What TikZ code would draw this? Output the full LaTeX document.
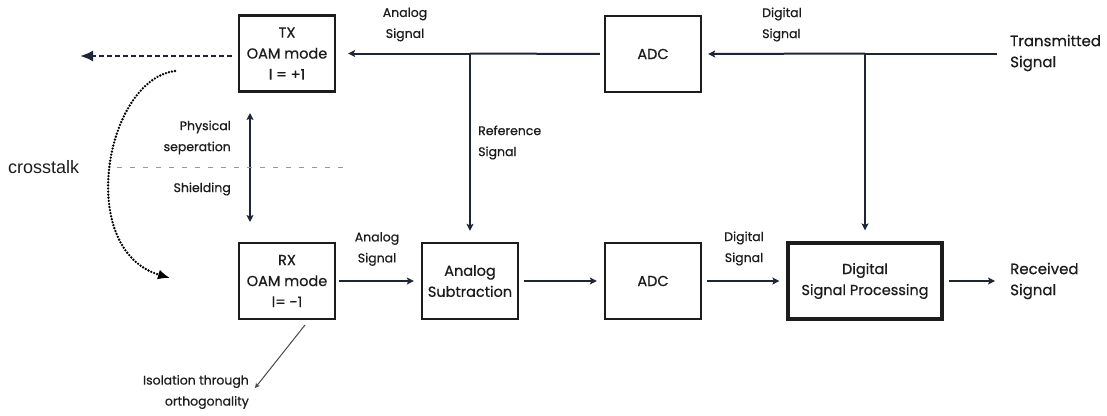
\documentclass[tikz,border=0pt]{standalone}
\usepackage{fontspec}
\setmainfont{Poppins}[FakeBold=0.6]
\newfontfamily\arialfont{Liberation Sans}
\usetikzlibrary{arrows.meta}
\definecolor{ink}{HTML}{1E2536}
\definecolor{txt}{HTML}{1C1C1C}
\begin{document}
\begin{tikzpicture}[x=1pt,y=-1pt,
  block/.style={draw=txt,line width=2.3pt,rectangle,minimum width=96pt,minimum height=76pt,
    align=center,text=txt,font=\fontsize{14.5}{21}\selectfont,inner sep=0pt},
  lbl/.style={text=txt,font=\fontsize{12.5}{21}\selectfont,inner sep=0pt},
  io/.style={text=txt,font=\fontsize{15}{21}\selectfont,inner sep=0pt,align=left},
  flow/.style={draw=ink,line width=2pt,-{Stealth[length=7pt,width=7pt,inset=1.5pt]}},
  wire/.style={draw=ink,line width=2pt}]
\useasboundingbox (0,0) rectangle (1107,415);

% blocks
\node[block] (tx) at (287,53.5) {TX\\OAM mode\\l = +1};
\node[block] (rx) at (287,281) {RX\\OAM mode\\l= -1};
\node[block] (adc1) at (653,54) {ADC};
\node[block] (as) at (470,281) {Analog\\Subtraction};
\node[block] (adc2) at (653,281) {ADC};
\node[block,line width=3.2pt,minimum width=154pt] (dsp) at (865,281) {Digital\\Signal Processing};

% helper points
\coordinate (tin) at (997,53.5);
\coordinate (tbr) at (865,53.5);
\coordinate (abr) at (470,53.5);
\coordinate (rout) at (995,281);
\coordinate (leak) at (80,56);
\coordinate (cs) at (175,71);
\coordinate (ce) at (170,278);
\coordinate (ps1) at (250,113);
\coordinate (ps2) at (250,222);
\coordinate (sh1) at (117,167);
\coordinate (sh2) at (343,167);
\coordinate (iso1) at (305,325);
\coordinate (iso2) at (255,388);

% transmit path
\draw[wire] (tin) -- (tbr);
\draw[flow,shorten >=6pt] (tbr) -- (adc1.east);
\draw[flow,shorten >=11pt] (tbr) -- (dsp.north);
\draw[wire,shorten <=4pt] (adc1.west) -- (abr);
\draw[flow,shorten >=12pt] (abr) -- (tx.east);
\draw[flow,shorten >=11pt] (abr) -- (as.north);

% receive path
\draw[flow,shorten <=3pt,shorten >=7pt] (rx.east) -- (as.west);
\draw[flow,shorten <=5pt,shorten >=7pt] (as.east) -- (adc2.west);
\draw[flow,shorten <=5pt,shorten >=7pt] (adc2.east) -- (dsp.west);
\draw[flow,shorten <=5pt] (dsp.east) -- (rout);

% leakage and crosstalk
\draw[draw=ink,line width=2pt,dash pattern=on 5pt off 3pt,-{Latex[length=13pt,width=11pt]},shorten <=6pt]
  ([yshift=-2.5pt]tx.west) -- (leak);
\draw[draw=black,line width=2.6pt,line cap=round,dash pattern=on 0pt off 3.1pt,
  -{Latex[length=12pt,width=10pt]}]
  (cs) .. controls (105,80) and (75,250) .. (ce);

% separation / shielding
\draw[draw=ink,line width=1.8pt,{Stealth[length=7pt,width=7pt,inset=1.5pt]}-{Stealth[length=7pt,width=7pt,inset=1.5pt]}] (ps1) -- (ps2);
\draw[draw=gray!80,line width=0.9pt,dash pattern=on 5pt off 8pt] (sh1) -- (sh2);
\draw[draw=txt!80,line width=1pt,-{Stealth[length=5pt,width=5pt]}] (iso1) -- (iso2);

% labels
\node[lbl,align=center] (la1) at (405,24.5) {Analog\\Signal};
\node[lbl,align=left,anchor=west] (ld1) at (762,24.5) {Digital\\Signal};
\node[lbl,align=left,anchor=west] (lref) at (478,142.5) {Reference\\Signal};
\node[lbl,align=center] (la2) at (377,249) {Analog\\Signal};
\node[lbl,align=center] (ld2) at (744,248.5) {Digital\\Signal};
\node[lbl,align=right,anchor=east] (lphy) at (231,137.5) {Physical\\seperation};
\node[lbl,anchor=east] (lsh) at (231,189) {Shielding};
\node[lbl,align=right,anchor=east] (liso) at (249,392) {Isolation through\\orthogonality};
\node[io,anchor=west] (ltx) at (1010,53) {Transmitted\\Signal};
\node[io,anchor=west] (lrx) at (1010,281) {Received\\Signal};
\node[text=txt,inner sep=0pt,anchor=west,font=\arialfont\fontsize{18}{20}\selectfont] (lct) at (8,167) {crosstalk};
\end{tikzpicture}
\end{document}
